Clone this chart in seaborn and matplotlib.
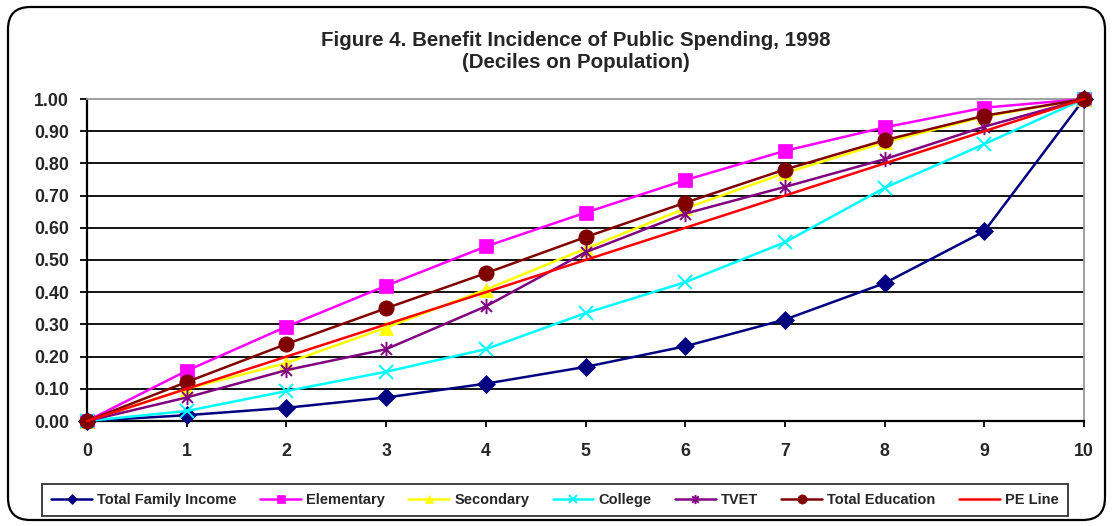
import numpy as np
import pandas as pd
import matplotlib
matplotlib.use("Agg")
import matplotlib.pyplot as plt
from matplotlib.path import Path
from matplotlib.patches import FancyBboxPatch
import seaborn as sns

# Cumulative share of benefits by population decile, 1998
deciles = [0, 1, 2, 3, 4, 5, 6, 7, 8, 9, 10]
total_family_income = [0.00, 0.018, 0.041, 0.073, 0.116, 0.168, 0.232, 0.315, 0.428, 0.589, 1.00]
elementary = [0.00, 0.156, 0.293, 0.420, 0.542, 0.647, 0.748, 0.839, 0.912, 0.973, 1.00]
secondary = [0.00, 0.100, 0.180, 0.290, 0.408, 0.535, 0.660, 0.770, 0.865, 0.945, 1.00]
college = [0.00, 0.031, 0.093, 0.153, 0.223, 0.335, 0.431, 0.555, 0.724, 0.860, 1.00]
tvet = [0.00, 0.073, 0.158, 0.223, 0.356, 0.524, 0.644, 0.727, 0.813, 0.914, 1.00]
total_education = [0.00, 0.121, 0.239, 0.350, 0.459, 0.571, 0.678, 0.781, 0.872, 0.948, 1.00]
pe_line = [0.0, 0.1, 0.2, 0.3, 0.4, 0.5, 0.6, 0.7, 0.8, 0.9, 1.0]

series_names = ["Total Family Income", "Elementary", "Secondary", "College",
                "TVET", "Total Education", "PE Line"]
series_values = [total_family_income, elementary, secondary, college,
                 tvet, total_education, pe_line]

# Excel-style asterisk: a cross plus a vertical stroke
asterisk = Path(
    [(0, -1), (0, 1), (-0.72, -0.72), (0.72, 0.72), (-0.72, 0.72), (0.72, -0.72)],
    [Path.MOVETO, Path.LINETO, Path.MOVETO, Path.LINETO, Path.MOVETO, Path.LINETO],
)

styles = {
    "Total Family Income": dict(color="#000080", marker="D", ms=9),
    "Elementary": dict(color="#FF00FF", marker="s", ms=10),
    "Secondary": dict(color="#FFFF00", marker="^", ms=10),
    "College": dict(color="#00FFFF", marker="x", ms=10),
    "TVET": dict(color="#800080", marker=asterisk, ms=11),
    "Total Education": dict(color="#800000", marker="o", ms=11),
    "PE Line": dict(color="#FF0000", marker=None, ms=0),
}

df = pd.DataFrame(
    [(name, d, v) for name, vals in zip(series_names, series_values)
     for d, v in zip(deciles, vals)],
    columns=["series", "decile", "share"],
)

sns.set_style("white")
plt.rcParams["font.family"] = ["Liberation Sans", "DejaVu Sans"]
plt.rcParams["font.weight"] = "bold"

fig = plt.figure(figsize=(11.13, 5.26), dpi=100)
ax = fig.add_axes([87 / 1113, 1 - 421 / 526, (1084 - 87) / 1113, (421 - 99) / 526])

for name in series_names:
    st = styles[name]
    sub = df[df["series"] == name]
    mk = st["marker"]
    sns.lineplot(
        data=sub, x="decile", y="share", ax=ax, color=st["color"],
        linewidth=1.8, label=name, legend=False,
        marker=mk if mk is not None else None,
        markersize=st["ms"],
        markeredgecolor=st["color"], markerfacecolor=st["color"],
        markeredgewidth=1.4 if mk in ("x",) or mk is asterisk else 0.5,
        clip_on=False, zorder=3,
    )

ax.set_xlim(0, 10)
ax.set_ylim(0, 1)
ax.set_xticks(deciles)
ax.set_xticklabels([str(d) for d in deciles])
yt = np.round(np.arange(0, 1.01, 0.1), 2)
ax.set_yticks(yt)
ax.set_yticklabels([f"{v:.2f}" for v in yt])
ax.set_xlabel("")
ax.set_ylabel("")

ax.yaxis.grid(True, color="black", linewidth=1.3)
ax.xaxis.grid(False)
ax.set_axisbelow(True)
ax.get_ygridlines()[-1].set_visible(False)
ax.get_ygridlines()[0].set_visible(False)

for side in ("left", "bottom"):
    ax.spines[side].set_color("black")
    ax.spines[side].set_linewidth(1.6)
for side in ("top", "right"):
    ax.spines[side].set_visible(True)
    ax.spines[side].set_color("#999999")
    ax.spines[side].set_linewidth(1.3)

ax.tick_params(axis="y", direction="out", length=5, width=1.3, color="black",
               pad=8, labelsize=12.8, left=True)
ax.tick_params(axis="x", direction="out", length=4, width=1.3, color="black",
               pad=12, labelsize=12.8, bottom=True)
for lab in ax.get_xticklabels() + ax.get_yticklabels():
    lab.set_fontweight("bold")

fig.text(576 / 1113, 1 - 40 / 526, "Figure 4. Benefit Incidence of Public Spending, 1998",
         ha="center", va="center", fontsize=14.8, fontweight="bold")
fig.text(576 / 1113, 1 - 62 / 526, "(Deciles on Population)",
         ha="center", va="center", fontsize=14.8, fontweight="bold")

handles, labels = ax.get_legend_handles_labels()
leg = fig.legend(
    handles, labels, loc="center", ncol=7,
    bbox_to_anchor=(555 / 1113, 1 - 500 / 526),
    frameon=True, fancybox=False, edgecolor="black",
    fontsize=10.5, markerscale=0.6, handlelength=2.8,
    columnspacing=1.6, handletextpad=0.35, borderpad=0.65,
)
leg.get_frame().set_linewidth(1.3)
for t in leg.get_texts():
    t.set_fontweight("bold")

# Rounded outer chart border
border = FancyBboxPatch(
    (8 / 1113, 6 / 526), 1097 / 1113, 513 / 526,
    boxstyle="round,pad=0,rounding_size=0.02",
    transform=fig.transFigure, facecolor="none", edgecolor="black",
    linewidth=1.6, mutation_aspect=1113 / 526,
)
fig.patches.append(border)

fig.savefig("out.png", dpi=100)
